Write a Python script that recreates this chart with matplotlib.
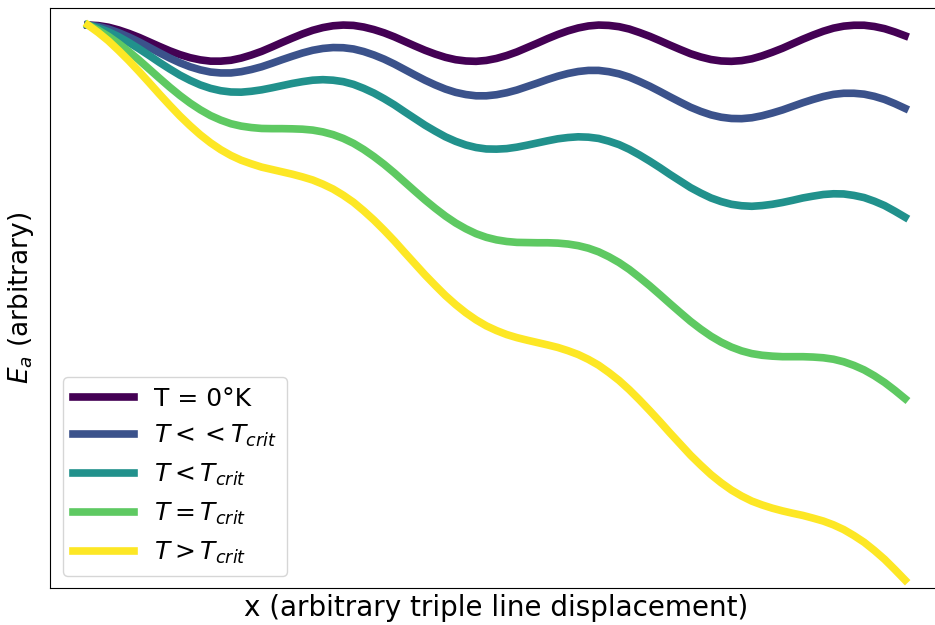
import matplotlib
matplotlib.use("Agg")
import matplotlib.pyplot as plt

# displacement along the triple line (arbitrary units)
x = [0.0, 0.25, 0.5, 0.75, 1.0, 1.25, 1.5, 1.75, 2.0, 2.25,
     2.5, 2.75, 3.0, 3.25, 3.5, 3.75, 4.0, 4.25, 4.5, 4.75,
     5.0, 5.25, 5.5, 5.75, 6.0, 6.25, 6.5, 6.75, 7.0, 7.25,
     7.5, 7.75, 8.0, 8.25, 8.5, 8.75, 9.0, 9.25, 9.5, 9.75,
     10.0, 10.25, 10.5, 10.75, 11.0, 11.25, 11.5, 11.75, 12.0, 12.25,
     12.5, 12.75, 13.0, 13.25, 13.5, 13.75, 14.0, 14.25, 14.5, 14.75,
     15.0, 15.25, 15.5, 15.75, 16.0, 16.25, 16.5, 16.75, 17.0, 17.25,
     17.5, 17.75, 18.0, 18.25, 18.5, 18.75, 19.0, 19.25, 19.5, 19.75, 20.0]

# activation energy curves
ea_zero = [1.00, 0.97, 0.88, 0.73, 0.54, 0.32, 0.07, -0.18, -0.42, -0.63,
           -0.80, -0.92, -0.99, -0.99, -0.94, -0.82, -0.65, -0.45, -0.21, 0.04,
           0.28, 0.51, 0.71, 0.86, 0.96, 1.00, 0.98, 0.89, 0.75, 0.57,
           0.35, 0.10, -0.15, -0.39, -0.60, -0.78, -0.91, -0.98, -1.00, -0.95,
           -0.84, -0.68, -0.48, -0.24, 0.00, 0.25, 0.48, 0.68, 0.84, 0.95,
           1.00, 0.98, 0.91, 0.78, 0.59, 0.38, 0.14, -0.11, -0.35, -0.58,
           -0.76, -0.90, -0.98, -1.00, -0.96, -0.86, -0.70, -0.50, -0.28, -0.03,
           0.22, 0.45, 0.66, 0.83, 0.94, 0.99, 0.99, 0.92, 0.80, 0.62, 0.41]
ea_much_less = [1.00, 0.92, 0.78, 0.58, 0.34, 0.07, -0.23, -0.53, -0.82, -1.08,
                -1.30, -1.47, -1.59, -1.64, -1.64, -1.57, -1.45, -1.30, -1.11, -0.91,
                -0.72, -0.54, -0.39, -0.29, -0.24, -0.25, -0.32, -0.46, -0.65, -0.88,
                -1.15, -1.45, -1.75, -2.04, -2.30, -2.53, -2.71, -2.83, -2.90, -2.90,
                -2.84, -2.73, -2.58, -2.39, -2.20, -2.00, -1.82, -1.67, -1.56, -1.50,
                -1.50, -1.57, -1.69, -1.87, -2.11, -2.37, -2.66, -2.96, -3.25, -3.53,
                -3.76, -3.95, -4.08, -4.15, -4.16, -4.11, -4.00, -3.85, -3.68, -3.48,
                -3.28, -3.10, -2.94, -2.82, -2.76, -2.76, -2.81, -2.93, -3.10, -3.33, -3.59]
ea_less = [1.00, 0.84, 0.63, 0.36, 0.04, -0.31, -0.68, -1.06, -1.42, -1.76,
           -2.05, -2.30, -2.49, -2.62, -2.69, -2.70, -2.65, -2.57, -2.46, -2.34,
           -2.22, -2.12, -2.04, -2.01, -2.04, -2.12, -2.27, -2.49, -2.75, -3.06,
           -3.40, -3.78, -4.15, -4.52, -4.85, -5.16, -5.41, -5.61, -5.75, -5.83,
           -5.84, -5.81, -5.73, -5.62, -5.50, -5.38, -5.27, -5.20, -5.16, -5.18,
           -5.25, -5.40, -5.59, -5.85, -6.16, -6.50, -6.86, -7.24, -7.60, -7.96,
           -8.26, -8.53, -8.73, -8.88, -8.96, -8.99, -8.95, -8.88, -8.78, -8.66,
           -8.53, -8.43, -8.34, -8.30, -8.31, -8.39, -8.51, -8.71, -8.95, -9.26, -9.59]
ea_crit = [1.00, 0.72, 0.38, -0.02, -0.46, -0.93, -1.43, -1.93, -2.42, -2.88,
           -3.30, -3.67, -3.99, -4.24, -4.44, -4.57, -4.65, -4.70, -4.71, -4.71,
           -4.72, -4.74, -4.79, -4.89, -5.04, -5.25, -5.52, -5.86, -6.25, -6.68,
           -7.15, -7.65, -8.15, -8.64, -9.10, -9.53, -9.91, -10.23, -10.50, -10.70,
           -10.84, -10.93, -10.98, -10.99, -11.00, -11.00, -11.02, -11.07, -11.16, -11.30,
           -11.50, -11.77, -12.09, -12.47, -12.91, -13.37, -13.86, -14.36, -14.85, -15.33,
           -15.76, -16.15, -16.48, -16.75, -16.96, -17.11, -17.20, -17.25, -17.28, -17.28,
           -17.28, -17.30, -17.34, -17.42, -17.56, -17.76, -18.01, -18.33, -18.70, -19.13, -19.59]
ea_above = [1.00, 0.59, 0.13, -0.40, -0.96, -1.56, -2.18, -2.81, -3.42, -4.01,
            -4.55, -5.05, -5.49, -5.87, -6.19, -6.45, -6.65, -6.83, -6.96, -7.09,
            -7.22, -7.37, -7.54, -7.77, -8.04, -8.38, -8.77, -9.24, -9.75, -10.31,
            -10.90, -11.53, -12.15, -12.77, -13.35, -13.91, -14.41, -14.86, -15.25, -15.58,
            -15.84, -16.06, -16.23, -16.37, -16.50, -16.63, -16.77, -16.95, -17.16, -17.43,
            -17.75, -18.15, -18.59, -19.10, -19.66, -20.25, -20.86, -21.49, -22.10, -22.71,
            -23.26, -23.78, -24.23, -24.63, -24.96, -25.24, -25.45, -25.63, -25.78, -25.91,
            -26.03, -26.18, -26.34, -26.55, -26.81, -27.14, -27.51, -27.96, -28.45, -29.01, -29.59]

labels = ["T = 0°K", r"$T<<T_{crit}$", r"$T<T_{crit}$", r"$T=T_{crit}$", r"$T>T_{crit}$"]
series = [ea_zero, ea_much_less, ea_less, ea_crit, ea_above]
colors = plt.cm.viridis([0.0, 0.25, 0.5, 0.75, 1.0])

fig = plt.figure(figsize=(9.35, 6.25), dpi=100)
ax = fig.add_axes([50 / 935, 37 / 625, 893 / 935, 580 / 625])

for ys, lab, c in zip(series, labels, colors):
    ax.plot(x, ys, color=c, lw=5.5, label=lab)

ax.set_xlim(-0.93, 20.93)
ax.set_ylim(-30.03, 1.94)
ax.set_xticks([])
ax.set_yticks([])
ax.set_xlabel("x (arbitrary triple line displacement)", fontsize=20)
ax.set_ylabel(r"$E_a$ (arbitrary)", fontsize=19, labelpad=10)
ax.legend(loc="lower left", fontsize=18, handlelength=2.45)

fig.savefig("out.png", dpi=100)
